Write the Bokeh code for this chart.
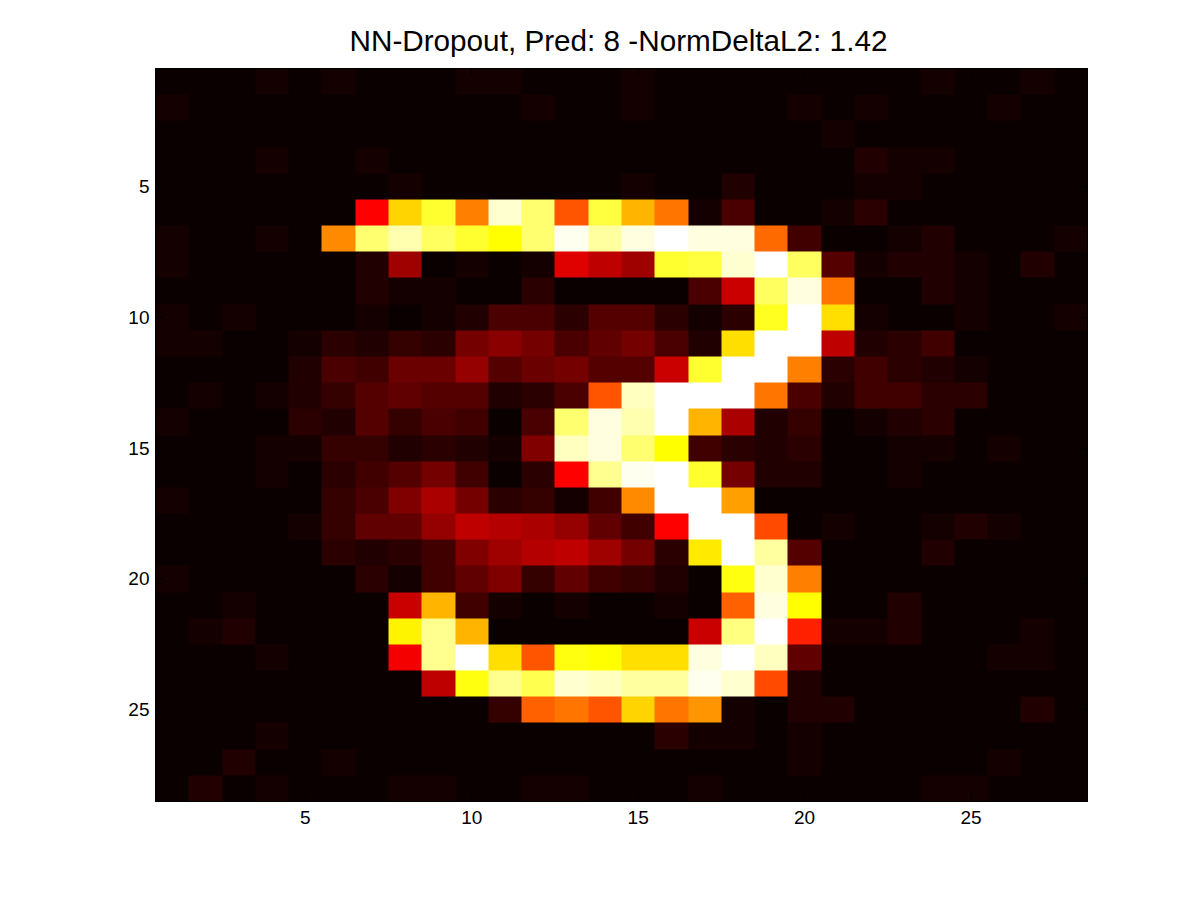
import numpy as np
from bokeh.plotting import figure
from bokeh.models import LinearColorMapper, LinearAxis, FixedTicker, Range1d, Title
from bokeh.embed import file_html
from bokeh.resources import INLINE

title_text = "NN-Dropout, Pred: 8 -NormDeltaL2: 1.42"
tick_values = [5, 10, 15, 20, 25]

row_01 = [0,0,0,1,0,1,0,0,0,1,1,0,0,0,1,0,0,0,0,0,0,0,0,1,0,0,1,0]
row_02 = [1,0,0,0,0,0,0,0,0,0,0,1,0,0,1,0,0,0,0,1,0,1,0,0,0,1,0,0]
row_03 = [0,0,0,0,0,0,0,0,0,0,0,0,0,0,0,0,0,0,0,0,1,0,0,0,0,0,0,0]
row_04 = [0,0,0,1,0,0,1,0,0,0,0,0,0,0,0,0,0,0,0,0,0,2,1,1,0,0,0,0]
row_05 = [0,0,0,0,0,0,0,1,0,0,0,0,0,0,1,0,0,2,0,0,0,1,1,0,0,0,0,0]
row_06 = [0,0,0,0,0,0,23,43,50,35,60,54,31,51,40,34,1,6,0,0,1,3,0,0,0,0,0,0]
row_07 = [1,0,0,1,0,36,54,58,53,50,47,54,62,57,61,63,61,61,33,5,0,0,1,2,0,0,0,1]
row_08 = [1,0,0,0,0,0,2,14,0,1,0,1,20,17,14,50,51,60,63,53,7,1,2,2,1,0,2,0]
row_09 = [0,0,0,0,0,0,2,1,1,0,0,3,0,0,0,0,6,18,53,61,34,0,0,2,1,0,0,0]
row_10 = [1,0,1,0,0,0,1,0,1,2,6,6,3,7,7,3,1,3,49,63,44,1,0,0,1,0,0,1]
row_11 = [1,1,0,0,1,3,2,4,3,10,12,10,6,8,10,6,2,44,63,63,17,2,3,5,0,0,0,0]
row_12 = [0,0,0,0,2,6,5,9,9,13,7,9,10,7,7,18,50,63,63,35,3,5,3,2,1,0,0,0]
row_13 = [0,1,0,1,2,4,7,8,7,7,2,3,6,31,59,63,63,63,34,6,2,5,5,3,3,0,0,0]
row_14 = [1,0,0,0,3,2,7,4,6,5,0,6,54,61,58,63,40,15,2,4,0,1,2,3,0,0,0,0]
row_15 = [0,0,0,1,1,4,4,2,3,2,1,11,59,61,54,47,5,3,2,3,0,0,1,1,0,1,0,0]
row_16 = [0,0,0,1,0,3,5,7,10,5,0,3,23,56,62,63,50,10,2,2,0,0,1,0,0,0,0,0]
row_17 = [1,0,0,0,0,4,6,11,15,10,3,4,1,5,36,63,63,38,0,0,0,0,0,0,0,0,0,0]
row_18 = [0,0,0,0,1,4,8,8,13,17,16,15,13,8,5,23,63,63,30,0,1,0,0,1,2,1,0,0]
row_19 = [0,0,0,0,0,3,2,3,5,11,14,16,17,14,10,3,45,63,57,7,0,0,0,2,0,0,0,0]
row_20 = [1,0,0,0,0,0,3,1,5,8,11,4,8,5,4,2,0,48,60,35,0,0,0,0,0,0,0,0]
row_21 = [0,0,1,0,0,0,0,18,40,5,1,0,1,0,0,1,0,32,61,47,0,0,2,0,0,0,0,0]
row_22 = [0,1,2,0,0,0,0,46,56,40,0,0,0,0,0,0,18,55,63,26,1,1,2,0,0,0,1,0]
row_23 = [0,0,0,1,0,0,0,22,56,63,44,31,48,47,44,44,61,63,59,8,0,0,0,0,0,1,1,0]
row_24 = [0,0,0,0,0,0,0,0,17,48,56,52,60,59,57,57,62,60,30,2,0,0,0,0,0,0,0,0]
row_25 = [0,0,0,0,0,0,0,0,0,0,4,32,34,31,43,34,37,1,0,2,2,0,0,0,0,0,2,0]
row_26 = [0,0,0,1,0,0,0,0,0,0,0,0,0,0,0,3,1,1,0,1,0,0,0,0,0,0,0,0]
row_27 = [0,0,2,0,0,1,0,0,0,0,0,0,0,0,0,0,0,0,0,1,0,0,0,0,0,1,0,0]
row_28 = [0,2,0,1,0,0,0,1,1,0,0,1,1,0,0,0,1,0,0,0,0,0,0,1,1,0,0,0]

rows = [row_01, row_02, row_03, row_04, row_05, row_06, row_07, row_08, row_09, row_10,
        row_11, row_12, row_13, row_14, row_15, row_16, row_17, row_18, row_19, row_20,
        row_21, row_22, row_23, row_24, row_25, row_26, row_27, row_28]


def hot_palette(n=64):
    out = []
    for i in range(n):
        r = min(1.0, (i + 1) / 24)
        g = min(1.0, max(0.0, (i - 23) / 24))
        b = max(0.0, (i - 47) / 16)
        out.append("#%02x%02x%02x" % (round(r * 255), round(g * 255), round(b * 255)))
    return out


W, H = 1184, 884
LEFT, TOP, RIGHT, BOTTOM = 155, 68, 1087, 801

p = figure(width=W, height=H, output_backend="svg", toolbar_location=None,
           x_range=Range1d(0.5, 28.5), y_range=Range1d(28.5, 0.5),
           min_border_left=LEFT, min_border_top=TOP,
           min_border_right=W - RIGHT, min_border_bottom=H - BOTTOM,
           x_axis_location=None, y_axis_location=None)
p.grid.visible = False
p.outline_line_color = "black"
p.background_fill_color = "#0b0000"
p.title = Title(text=title_text, align="left", offset=194, text_font="Liberation Sans",
                text_font_size="29.7px", text_font_style="normal", text_color="black",
                standoff=24)

mapper = LinearColorMapper(palette=hot_palette(), low=-0.5, high=63.5)
data = np.array(rows, dtype=float)
p.image(image=[data], x=0.5, y=0.5, dw=28, dh=28, color_mapper=mapper)


def make_axis(standoff):
    a = LinearAxis(ticker=FixedTicker(ticks=tick_values))
    a.major_tick_in = 8
    a.major_tick_out = 0
    a.minor_tick_line_color = None
    a.axis_line_color = "black"
    a.major_tick_line_color = "black"
    a.major_label_text_font = "Liberation Sans"
    a.major_label_text_font_size = "19px"
    a.major_label_text_color = "black"
    a.major_label_standoff = standoff
    return a


def make_tick_only_axis():
    a = make_axis(0)
    a.major_label_overrides = {t: "" for t in tick_values}
    a.major_label_text_font_size = "1px"
    return a


p.add_layout(make_axis(9), "below")
p.add_layout(make_axis(6), "left")
p.add_layout(make_tick_only_axis(), "above")
p.add_layout(make_tick_only_axis(), "right")

open("out.html", "w").write(file_html(p, INLINE))
